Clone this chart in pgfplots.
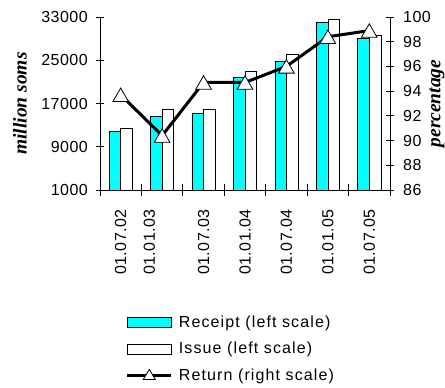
\documentclass[border=0pt]{standalone}
\usepackage{pgfplots}
\pgfplotsset{compat=1.18}
\usepackage{fontspec}
\setmainfont{Liberation Sans}[LetterSpace=3]
\newfontfamily\legfont{Liberation Sans}[LetterSpace=7]
\newfontfamily\titfont{Liberation Serif}
\definecolor{rc}{RGB}{0,255,255}
\pgfplotsset{
  barleg/.style={legend image code/.code={\draw[##1] (0pt,-5pt) rectangle (44pt,5pt);}},
  lineleg/.style={legend image code/.code={\draw[##1] (0pt,0pt) -- (44pt,0pt);
    \draw[black, fill=white, line width=0.8pt] (16pt,-4pt) -- (28pt,-4pt) -- (22pt,6pt) -- cycle;}},
}
\begin{document}
\begin{tikzpicture}
\useasboundingbox (-100pt,-198pt) rectangle (345pt,190pt);
\begin{axis}[
  scale only axis, width=290pt, height=173pt,
  at={(0pt,0pt)}, anchor=south west,
  xmin=-0.5, xmax=6.5, ymin=1000, ymax=33000,
  clip=false,
  axis x line*=bottom, axis y line*=left,
  axis line style={line width=0.8pt},
  ytick={1000,9000,17000,25000,33000},
  scaled y ticks=false,
  /pgf/number format/assume math mode=true,
  /pgf/number format/set thousands separator={},
  tick align=center,
  major tick length=8pt,
  minor tick length=12pt,
  tick style={black, line width=0.8pt},
  xtick={0,0.69,2,3,4,5,6},
  xticklabels={01.07.02,01.01.03,01.07.03,01.01.04,01.07.04,01.01.05,01.07.05},
  major x tick style={draw=none},
  minor xtick={-0.5,0.5,1.5,2.5,3.5,4.5,5.5,6.5},
  xticklabel style={font=\fontsize{16}{19}\selectfont, yshift=-15pt, rotate=90, anchor=east, inner sep=0pt},
  yticklabel style={font=\fontsize{16}{19}\selectfont, inner sep=0pt, xshift=-8pt},
  ylabel={million soms},
  ylabel style={font=\titfont\bfseries\itshape\fontsize{19.5}{22}\selectfont, at={(axis description cs:0,0.5)}, anchor=center, yshift=80pt},
  legend style={at={(axis description cs:0,0)}, anchor=north west, xshift=26pt, yshift=-124pt,
    draw=none, fill=none, inner sep=0pt, row sep=10.5pt, column sep=5pt,
    font=\legfont\fontsize{16}{19}\selectfont,
    nodes={inner sep=1.5pt}},
  legend cell align=left,
]
\addplot[ybar, bar width=0.28, bar shift=-0.14, fill=rc, draw=black, line width=0.6pt, barleg]
  coordinates {(0,11900) (1,14600) (2,15200) (3,21800) (4,24800) (5,32100) (6,29100)};
\addlegendentry{Receipt (left scale)}
\addplot[ybar, bar width=0.28, bar shift=0.14, fill=white, draw=black, line width=0.6pt, barleg]
  coordinates {(0,12400) (1,16000) (2,16000) (3,23000) (4,26100) (5,32600) (6,29600)};
\addlegendentry{Issue (left scale)}
\addlegendimage{black, line width=2.2pt, lineleg}
\addlegendentry{Return (right scale)}
\end{axis}
\begin{axis}[
  scale only axis, width=290pt, height=173pt,
  at={(0pt,0pt)}, anchor=south west,
  xmin=-0.5, xmax=6.5, ymin=86, ymax=100,
  clip=false,
  axis y line*=right, axis x line=none,
  axis line style={line width=0.8pt},
  ytick={86,88,90,92,94,96,98,100},
  /pgf/number format/assume math mode=true,
  tick align=center,
  major tick length=8pt,
  tick style={black, line width=0.8pt},
  yticklabel style={font=\fontsize{16}{19}\selectfont, inner sep=0pt, xshift=9pt},
  ylabel={percentage},
  ylabel style={font=\titfont\bfseries\itshape\fontsize{19.5}{22}\selectfont, at={(axis description cs:1,0.5)}, anchor=center, rotate=0, yshift=-47pt},
]
\addplot[black, line width=3pt, mark=triangle*, mark size=9pt,
  mark options={fill=white, line width=0.8pt, solid, yshift=-2.2pt}]
  coordinates {(0,93.7) (1,90.4) (2,94.7) (3,94.7) (4,96.0) (5,98.4) (6,98.9)};
\end{axis}
\end{tikzpicture}
\end{document}
